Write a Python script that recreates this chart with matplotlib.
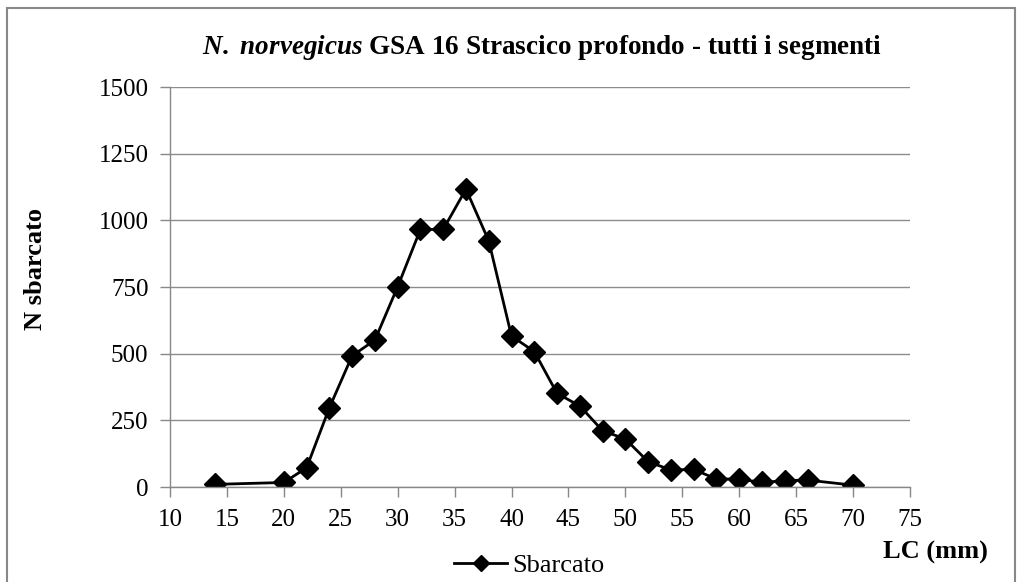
import matplotlib.pyplot as plt
from matplotlib.patches import Rectangle

# LC (mm) classes and landed numbers
lc_mm = [14, 20, 22, 24, 26, 28, 30, 32, 34, 36, 38, 40, 42, 44, 46, 48,
         50, 52, 54, 56, 58, 60, 62, 64, 66, 70]
n_sbarcato = [10, 17, 72, 297, 492, 551, 751, 966, 966, 1117, 923, 566, 508,
              351, 304, 211, 180, 95, 64, 66, 30, 30, 17, 24, 26, 7]

x_ticks = list(range(10, 80, 5))
y_ticks = [0, 250, 500, 750, 1000, 1250, 1500]

plt.rcParams['font.family'] = ['Liberation Serif', 'DejaVu Serif']
plt.rcParams['mathtext.fontset'] = 'custom'
plt.rcParams['mathtext.it'] = 'Liberation Serif:italic:bold'
plt.rcParams['mathtext.rm'] = 'Liberation Serif:bold'

fig = plt.figure(figsize=(10.22, 5.82), dpi=100)
ax = fig.add_axes([0.1663, 0.1632, 0.7241, 0.6873])

ax.plot(lc_mm, n_sbarcato, color='black', linewidth=2, marker='D',
        markersize=11, label='Sbarcato')

ax.set_xlim(10, 75)
ax.set_ylim(0, 1500)
ax.set_xticks(x_ticks)
ax.set_yticks(y_ticks)
ax.tick_params(axis='both', labelsize=18, color='#888888', length=7,
               width=1, direction='out')
ax.tick_params(axis='x', pad=9)
ax.tick_params(axis='y', pad=8.5)

ax.grid(axis='y', color='#8c8c8c', linewidth=1)
ax.set_axisbelow(True)
for side in ['top', 'right']:
    ax.spines[side].set_visible(False)
for side in ['left', 'bottom']:
    ax.spines[side].set_color('#888888')
    ax.spines[side].set_linewidth(1)

fig.text(0.530, 0.918,
         r'$\it{N.\ norvegicus}$' + ' GSA 16 Strascico profondo - tutti i segmenti',
         ha='center', va='center', fontsize=19.5, fontweight='bold')
fig.text(0.035, 0.538, 'N sbarcato', rotation=90, ha='center', va='center',
         fontsize=19, fontweight='bold')
fig.text(0.915, 0.05, 'LC (mm)', ha='center', va='center', fontsize=19,
         fontweight='bold')

fig.legend(loc='center', bbox_to_anchor=(0.518, 0.029), frameon=False,
           fontsize=19, handlelength=2.0, handletextpad=0.2, markerscale=0.7)

fig.patches.append(Rectangle((0.007, -0.02), 0.986, 1.006, transform=fig.transFigure,
                             fill=False, edgecolor='#888888', linewidth=1.5))

fig.savefig('out.png', dpi=100)
